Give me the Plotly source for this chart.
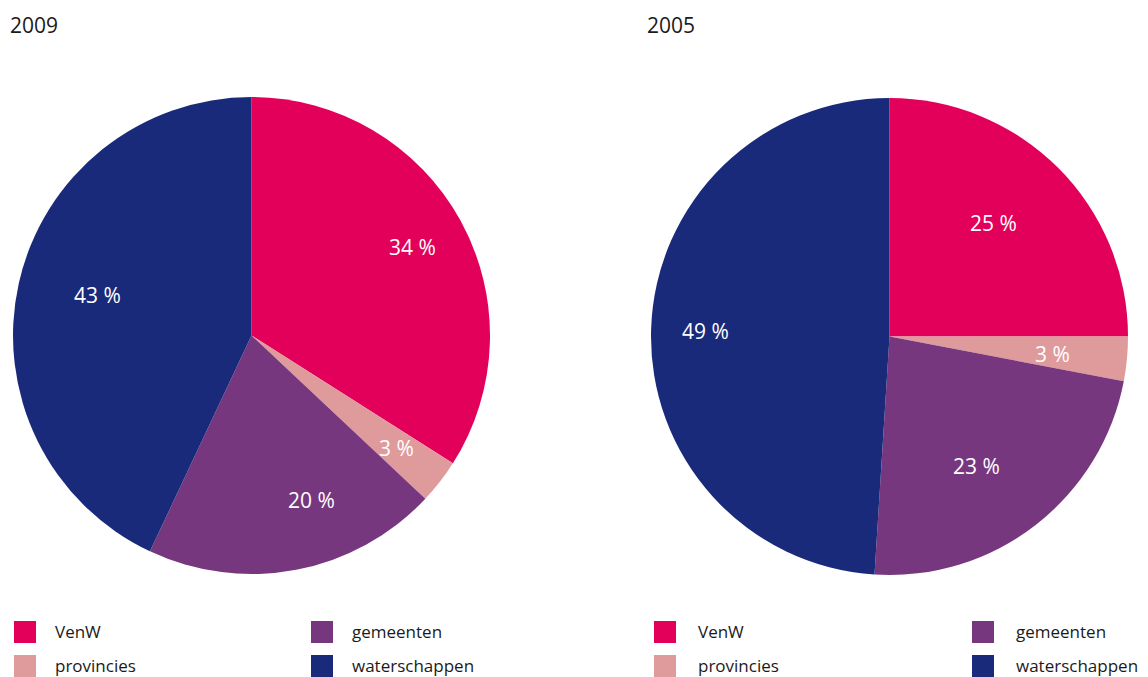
import math

import plotly.graph_objects as go

W, H = 1148, 677

labels = ["VenW", "provincies", "gemeenten", "waterschappen"]
colors = ["#E3005B", "#DF9A9B", "#76377F", "#1A2A7A"]
years = ["2009", "2005"]
share_2009 = [34, 3, 20, 43]
share_2005 = [25, 3, 23, 49]

font = "Open Sans"


def px_x(v):
    return v / W


def px_y(v):
    return 1 - v / H


fig = go.Figure()
annotations = []
shapes = []

# pie boxes in pixels: left, top, size
boxes = [(13, 97, 477), (651, 98, 477)]
for (left, top, size), vals in zip(boxes, [share_2009, share_2005]):
    fig.add_trace(
        go.Pie(
            labels=labels,
            values=vals,
            sort=False,
            direction="clockwise",
            rotation=0,
            marker=dict(colors=colors, line=dict(width=0)),
            textinfo="none",
            hoverinfo="label+value",
            showlegend=False,
            domain=dict(
                x=[px_x(left), px_x(left + size)],
                y=[px_y(top + size), px_y(top)],
            ),
        )
    )
    # percentage labels placed further out than plotly's default
    cx, cy, r = left + size / 2, top + size / 2, size / 2
    total = sum(vals)
    cum = 0
    for v in vals:
        ang = 2 * math.pi * (cum + v / 2) / total
        cum += v
        annotations.append(
            dict(
                text=f"{v} %", xref="paper", yref="paper",
                x=px_x(cx + 0.77 * r * math.sin(ang)),
                y=px_y(cy - 0.77 * r * math.cos(ang)),
                showarrow=False,
                font=dict(family=font, size=21, color="white"),
            )
        )

# year titles
for year, x0 in zip(years, [8, 645]):
    annotations.append(
        dict(
            text=year, x=px_x(x0), y=px_y(25), xref="paper", yref="paper",
            xanchor="left", yanchor="middle", showarrow=False,
            font=dict(family=font, size=21, color="#1a1a1a"),
        )
    )

# legends: two columns per pie
legend_cols = [(14, 55, 311, 352), (654, 698, 972, 1016)]
rows_y = [632, 666]
for sq1, tx1, sq2, tx2 in legend_cols:
    for i, (lab, col) in enumerate(zip(labels, colors)):
        c, r = divmod(i, 2)
        sq = sq1 if c == 0 else sq2
        tx = tx1 if c == 0 else tx2
        yc = rows_y[r]
        shapes.append(
            dict(
                type="rect", xref="paper", yref="paper",
                x0=px_x(sq), x1=px_x(sq + 22),
                y0=px_y(yc + 11), y1=px_y(yc - 11),
                fillcolor=col, line=dict(width=0),
            )
        )
        annotations.append(
            dict(
                text=lab, x=px_x(tx - 2), y=px_y(yc - 1), xref="paper", yref="paper",
                xanchor="left", yanchor="middle", showarrow=False,
                font=dict(family=font, size=17, color="#1a1a1a"),
            )
        )

fig.update_layout(
    width=W,
    height=H,
    margin=dict(l=0, r=0, t=0, b=0),
    paper_bgcolor="white",
    plot_bgcolor="white",
    annotations=annotations,
    shapes=shapes,
)

fig.write_html(
    "out.html",
    config={"displayModeBar": False},
    post_script="document.body.style.margin='0';document.body.style.overflow='hidden';",
)
